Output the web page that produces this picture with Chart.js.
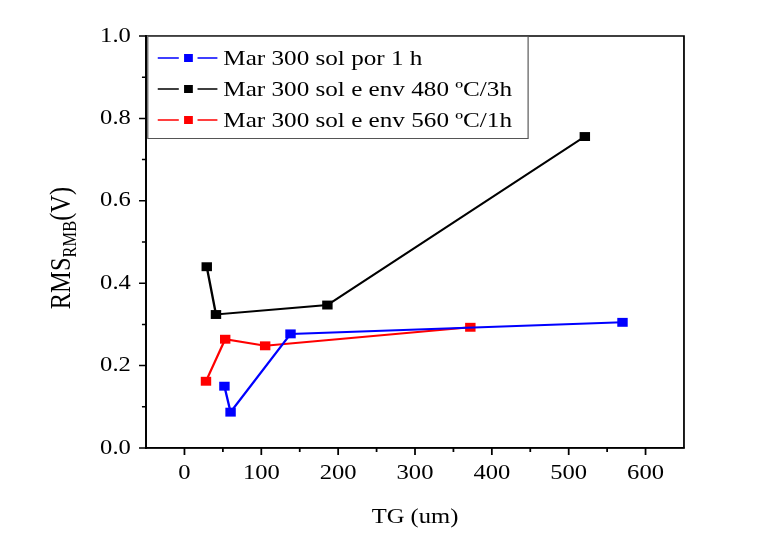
<!DOCTYPE html>
<html>
<head>
<meta charset="utf-8">
<script src="https://cdn.jsdelivr.net/npm/chart.js@4"></script>
<style>
  html, body { margin: 0; padding: 0; background: #fff; }
  #wrap { width: 777px; height: 533px; }
</style>
</head>
<body>
<div id="wrap"><canvas id="chart" width="777" height="533"></canvas></div>
<script>
// RMS vs TG for the three sample treatments
const seriesLabels = [
  'Mar 300 sol por 1 h',
  'Mar 300 sol e env 480 \u00baC/3h',
  'Mar 300 sol e env 560 \u00baC/1h'
];
const seriesColors = ['#0000ff', '#000000', '#ff0000'];

const blueTG = [52, 60, 138, 570];
const blueRMS = [0.150, 0.087, 0.277, 0.305];

const blackTG = [29, 41, 186, 521];
const blackRMS = [0.440, 0.324, 0.347, 0.756];

const redTG = [28, 53, 105, 372];
const redRMS = [0.162, 0.264, 0.248, 0.293];

const xTicks = [0, 100, 200, 300, 400, 500, 600];
const yTicks = [0.0, 0.2, 0.4, 0.6, 0.8, 1.0];

const FONT = 'Liberation Serif';
// the whole figure is laid out 664px wide and drawn widened to 777px
const STRETCH = 777 / 664;

function toPoints(xs, ys) {
  return xs.map((x, i) => ({ x: x, y: ys[i] }));
}

function makeDataset(i, xs, ys) {
  return {
    label: seriesLabels[i],
    data: toPoints(xs, ys),
    borderColor: seriesColors[i],
    backgroundColor: seriesColors[i],
    borderWidth: 2,
    pointStyle: 'rect',
    pointRadius: 6.3,
    pointBorderWidth: 0,
    pointBackgroundColor: seriesColors[i],
    tension: 0
  };
}

const isMajorX = v => xTicks.includes(Math.round(v));
const isMajorY = v => yTicks.some(t => Math.abs(t - v) < 1e-6);

const stretchPlugin = {
  id: 'stretch',
  beforeDraw(chart) {
    chart.ctx.save();
    chart.ctx.scale(STRETCH, 1);
  },
  afterDraw(chart) {
    chart.ctx.restore();
  }
};

// box around the plot, outward ticks, legend and the y title with subscript
const framePlugin = {
  id: 'frame',
  afterDraw(chart) {
    const ctx = chart.ctx;
    const a = chart.chartArea;
    const xs = chart.scales.x, ys = chart.scales.y;
    ctx.save();
    ctx.strokeStyle = '#000';
    ctx.lineWidth = 1.5;
    ctx.strokeRect(a.left, a.top, a.right - a.left, a.bottom - a.top);

    // ticks: long at labelled values, short in between
    ctx.beginPath();
    for (let v = -50; v <= 650; v += 50) {
      const px = xs.getPixelForValue(v);
      if (px <= a.left + 1 || px >= a.right - 1) continue;
      ctx.moveTo(px, a.bottom);
      ctx.lineTo(px, a.bottom + (isMajorX(v) ? 7 : 4));
    }
    for (let k = 0; k <= 10; k++) {
      const py = ys.getPixelForValue(k / 10);
      ctx.moveTo(a.left, py);
      ctx.lineTo(a.left - (k % 2 === 0 ? 6 : 3.5), py);
    }
    ctx.stroke();

    // legend
    const lx = a.left + 1, ly = a.top, lw = 325, lh = 102;
    ctx.fillStyle = '#fff';
    ctx.fillRect(lx, ly, lw, lh);
    ctx.strokeStyle = '#555';
    ctx.lineWidth = 1;
    ctx.strokeRect(lx + 0.5, ly + 0.5, lw, lh);
    ctx.font = '21.5px "' + FONT + '"';
    ctx.textBaseline = 'middle';
    chart.data.datasets.forEach((ds, i) => {
      const cy = ly + 22 + i * 31;
      ctx.strokeStyle = ds.borderColor;
      ctx.lineWidth = 1.5;
      ctx.beginPath();
      ctx.moveTo(lx + 9, cy); ctx.lineTo(lx + 27, cy);
      ctx.moveTo(lx + 43, cy); ctx.lineTo(lx + 60, cy);
      ctx.stroke();
      ctx.fillStyle = ds.borderColor;
      ctx.fillRect(lx + 31.5, cy - 4, 7.5, 8);
      ctx.fillStyle = '#000';
      ctx.fillText(ds.label, lx + 65, cy + 1);
    });

    // y title: RMS with RMB subscript
    ctx.translate(51.5, 248);
    ctx.rotate(-Math.PI / 2);
    ctx.fillStyle = '#000';
    ctx.textBaseline = 'alphabetic';
    const main = '24.5px "' + FONT + '"', sub = '16.5px "' + FONT + '"';
    ctx.font = main;
    const w1 = ctx.measureText('RMS').width;
    const w3 = ctx.measureText('(V)').width;
    ctx.font = sub;
    const w2 = ctx.measureText('RMB').width;
    const x0 = -(w1 + w2 + w3) / 2;
    ctx.font = main;
    ctx.fillText('RMS', x0, 8);
    ctx.font = sub;
    ctx.fillText('RMB', x0 + w1, 13.5);
    ctx.font = main;
    ctx.fillText('(V)', x0 + w1 + w2, 8);
    ctx.restore();
  }
};

new Chart(document.getElementById('chart'), {
  type: 'line',
  data: {
    datasets: [
      makeDataset(0, blueTG, blueRMS),
      makeDataset(1, blackTG, blackRMS),
      makeDataset(2, redTG, redRMS)
    ]
  },
  options: {
    responsive: false,
    animation: false,
    layout: { padding: { top: 36, right: 79.5 + (777 - 664), left: 0, bottom: 0 } },
    plugins: {
      legend: { display: false },
      tooltip: { enabled: false }
    },
    scales: {
      x: {
        type: 'linear',
        min: -50,
        max: 650,
        afterFit: s => { s.height = 85; },
        border: { display: true, color: '#000', width: 1.5 },
        grid: {
          drawOnChartArea: false,
          drawTicks: true,
          tickLength: 7,
          tickColor: 'rgba(0,0,0,0)'
        },
        ticks: {
          stepSize: 50,
          padding: 6,
          color: '#000',
          maxRotation: 0,
          autoSkip: false,
          font: { family: FONT, size: 21 },
          callback: v => isMajorX(v) ? String(Math.round(v)) : ''
        },
        title: {
          display: true,
          text: 'TG (um)',
          color: '#000',
          font: { family: FONT, size: 21 },
          padding: { top: 0, bottom: 3 }
        }
      },
      y: {
        type: 'linear',
        min: 0,
        max: 1,
        afterFit: s => { s.width = 124.8; },
        border: { display: true, color: '#000', width: 1.5 },
        grid: {
          drawOnChartArea: false,
          drawTicks: true,
          tickLength: 6,
          tickColor: 'rgba(0,0,0,0)'
        },
        ticks: {
          stepSize: 0.1,
          padding: 7,
          color: '#000',
          autoSkip: false,
          font: { family: FONT, size: 21 },
          callback: v => isMajorY(v) ? v.toFixed(1) : ''
        }
      }
    }
  },
  plugins: [framePlugin, stretchPlugin]
});
</script>
</body>
</html>
